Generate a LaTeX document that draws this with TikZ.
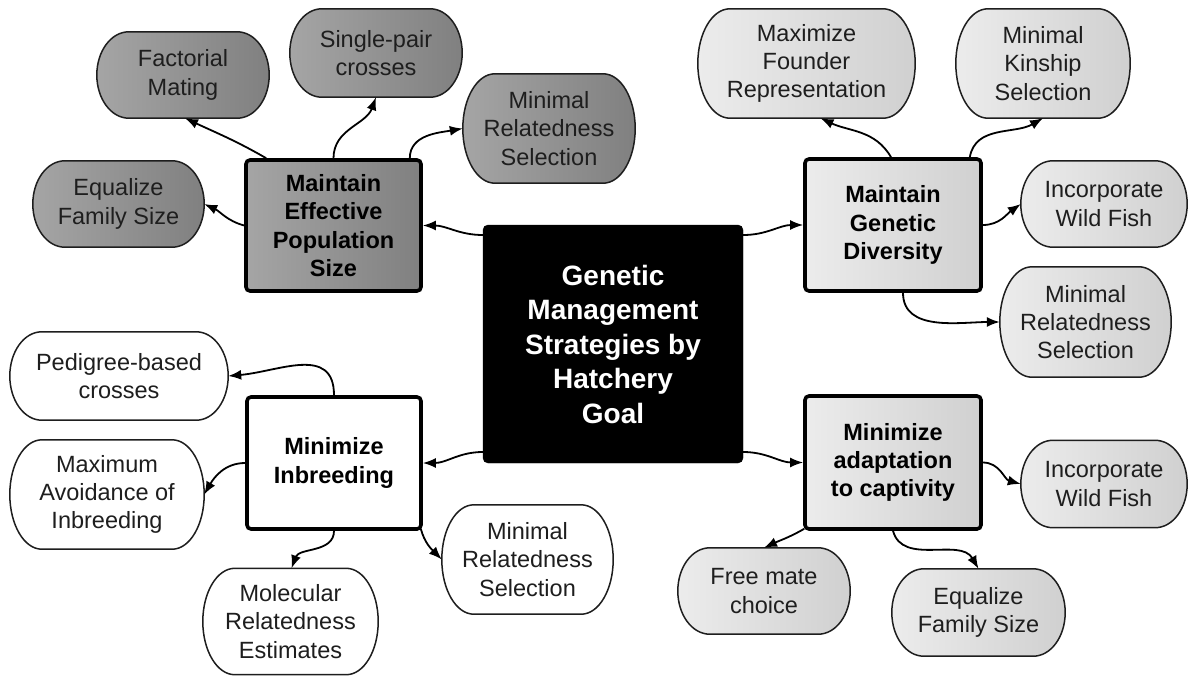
\documentclass[tikz,border=0pt]{standalone}
\usepackage{fontspec}
\setmainfont{Liberation Sans}
\usetikzlibrary{arrows.meta,calc,backgrounds}
\definecolor{darkL}{RGB}{165,165,165}
\definecolor{darkR}{RGB}{128,128,128}
\definecolor{lightL}{RGB}{236,236,236}
\definecolor{lightR}{RGB}{208,208,208}
\definecolor{inkc}{RGB}{30,30,30}
% stadium outline with elliptical ends drawn behind a named node
\newcommand\stadbox[2]{%
  \path[#2] let \p1=(#1.north east), \p2=(#1.south west), \n1={(\y1-\y2)/2} in
    ({\x2+32pt},\y1) -- ({\x1-32pt},\y1)
    arc[start angle=90,end angle=-90,x radius=32pt,y radius=\n1]
    -- ({\x2+32pt},\y2)
    arc[start angle=270,end angle=90,x radius=32pt,y radius=\n1] -- cycle;}
\begin{document}
\begin{tikzpicture}[x=1pt,y=1pt,
  sz/.style 2 args={minimum width=#1pt, minimum height=#2pt},
  leaf/.style={align=center, inner sep=0pt,
    font=\fontsize{23.5}{28.3}\selectfont, text=inkc},
  outl/.style={draw=inkc, line width=1.5pt},
  shdark/.style={outl, left color=darkL, right color=darkR},
  shlight/.style={outl, left color=lightL, right color=lightR},
  shwhite/.style={outl, fill=white},
  goal/.style={draw=black, line width=3.6pt, rounded corners=4pt, align=center, inner sep=0pt,
    font=\fontsize{23.5}{28.3}\selectfont\bfseries, text=black},
  goaldark/.style={goal, left color=darkL, right color=darkR},
  goallight/.style={goal, left color=lightL, right color=lightR},
  goalwhite/.style={goal, fill=white},
  conn/.style={draw=black, line width=1.8pt, -{Latex[length=13pt,width=10pt]}}
]
\useasboundingbox (0,0) rectangle (1188,-677);

% centre
\node[fill=black, draw=black, rounded corners=5pt, sz={260}{238}, align=center, text=white,
  font=\fontsize{28}{34.5}\selectfont\bfseries] (c) at (613,-344)
  {Genetic\\Management\\Strategies by\\Hatchery\\Goal};

% goal boxes
\node[goaldark, sz={175}{131}] (me) at (333.5,-225.5) {Maintain\\Effective\\Population\\Size};
\node[goallight, sz={176}{132}] (gd) at (893,-225) {Maintain\\Genetic\\Diversity};
\node[goalwhite, sz={174}{132}] (mi) at (334,-463) {Minimize\\Inbreeding};
\node[goallight, sz={176}{133}] (ma) at (893,-462.5) {Minimize\\adaptation\\to captivity};

% top-left leaves
\node[leaf, sz={172}{86}] (fm) at (183,-75) {Factorial\\Mating};
\node[leaf, sz={172}{88}] (sp) at (376,-53) {Single-pair\\crosses};
\node[leaf, sz={171}{86}] (ef1) at (118.5,-204) {Equalize\\Family Size};
\node[leaf, sz={172}{109}] (mr1) at (549,-128.5) {Minimal\\Relatedness\\Selection};

% top-right leaves
\node[leaf, sz={217}{109}] (mf) at (806.5,-63.5) {Maximize\\Founder\\Representation};
\node[leaf, sz={174}{109}] (mk) at (1043,-63.5) {Minimal\\Kinship\\Selection};
\node[leaf, sz={166}{86}] (iw1) at (1104,-204) {Incorporate\\Wild Fish};
\node[leaf, sz={171}{110}] (mr2) at (1085.5,-322) {Minimal\\Relatedness\\Selection};

% bottom-left leaves
\node[leaf, sz={218}{88}] (pb) at (119,-376) {Pedigree-based\\crosses};
\node[leaf, sz={194}{109}] (mx) at (107,-494.5) {Maximum\\Avoidance of\\Inbreeding};
\node[leaf, sz={175}{106}] (mo) at (290.5,-621.5) {Molecular\\Relatedness\\Estimates};
\node[leaf, sz={171}{109}] (mr3) at (527.5,-559.5) {Minimal\\Relatedness\\Selection};

% bottom-right leaves
\node[leaf, sz={172}{86}] (fc) at (764,-591) {Free mate\\choice};
\node[leaf, sz={166}{87}] (iw2) at (1104,-484) {Incorporate\\Wild Fish};
\node[leaf, sz={173}{87}] (ef2) at (978.5,-612.5) {Equalize\\Family Size};

% leaf outlines behind the text
\begin{scope}[on background layer]
  \stadbox{fm}{shdark}\stadbox{sp}{shdark}\stadbox{ef1}{shdark}\stadbox{mr1}{shdark}
  \stadbox{mf}{shlight}\stadbox{mk}{shlight}\stadbox{iw1}{shlight}\stadbox{mr2}{shlight}
  \stadbox{pb}{shwhite}\stadbox{mx}{shwhite}\stadbox{mo}{shwhite}\stadbox{mr3}{shwhite}
  \stadbox{fc}{shlight}\stadbox{iw2}{shlight}\stadbox{ef2}{shlight}
\end{scope}

% centre connectors
\draw[conn] ($(c.west)+(0,109)$) to[out=180,in=0] (me.east);
\draw[conn] ($(c.east)+(0,109)$) to[out=0,in=180] (gd.west);
\draw[conn] ($(c.west)+(0,-108)$) to[out=180,in=0] (mi.east);
\draw[conn] ($(c.east)+(0,-108)$) to[out=0,in=180] (ma.west);

% top-left cluster
\draw[conn] (me.west) to[out=165,in=-25] (ef1.east);
\draw[conn] ($(me.north west)+(22,0)$) to[out=150,in=-25] ($(fm.south)+(2,0)$);
\draw[conn] (me.north) to[out=90,in=-110] (sp.south);
\draw[conn] ($(me.north east)+(-13,0)$) to[out=90,in=190] (mr1.west);

% top-right cluster
\draw[conn] ($(gd.north)+(-2,0)$) to[out=120,in=-25] ($(mf.south)+(14,0)$);
\draw[conn] ($(gd.north east)+(-13,0)$) to[out=80,in=-150] (mk.south);
\draw[conn] (gd.east) to[out=0,in=-145] (iw1.west);
\draw[conn] ($(gd.south)+(10,0)$) to[out=-90,in=180] (mr2.west);

% bottom-left cluster
\draw[conn] (mi.north) to[out=90,in=5,looseness=1.2] (pb.east);
\draw[conn] (mi.west) to[out=180,in=60] (mx.east);
\draw[conn] (mi.south) to[out=-90,in=70] ($(mo.north)+(1,0)$);
\draw[conn] ($(mi.south east)+(-2,2)$) to[out=-75,in=135] (mr3.west);

% bottom-right cluster
\draw[conn] ($(ma.south west)+(1,2)$) to[out=-150,in=25] (fc.north);
\draw[conn] (ma.south) to[out=-75,in=120] (ef2.north);
\draw[conn] (ma.east) to[out=0,in=165] (iw2.west);
\end{tikzpicture}
\end{document}
